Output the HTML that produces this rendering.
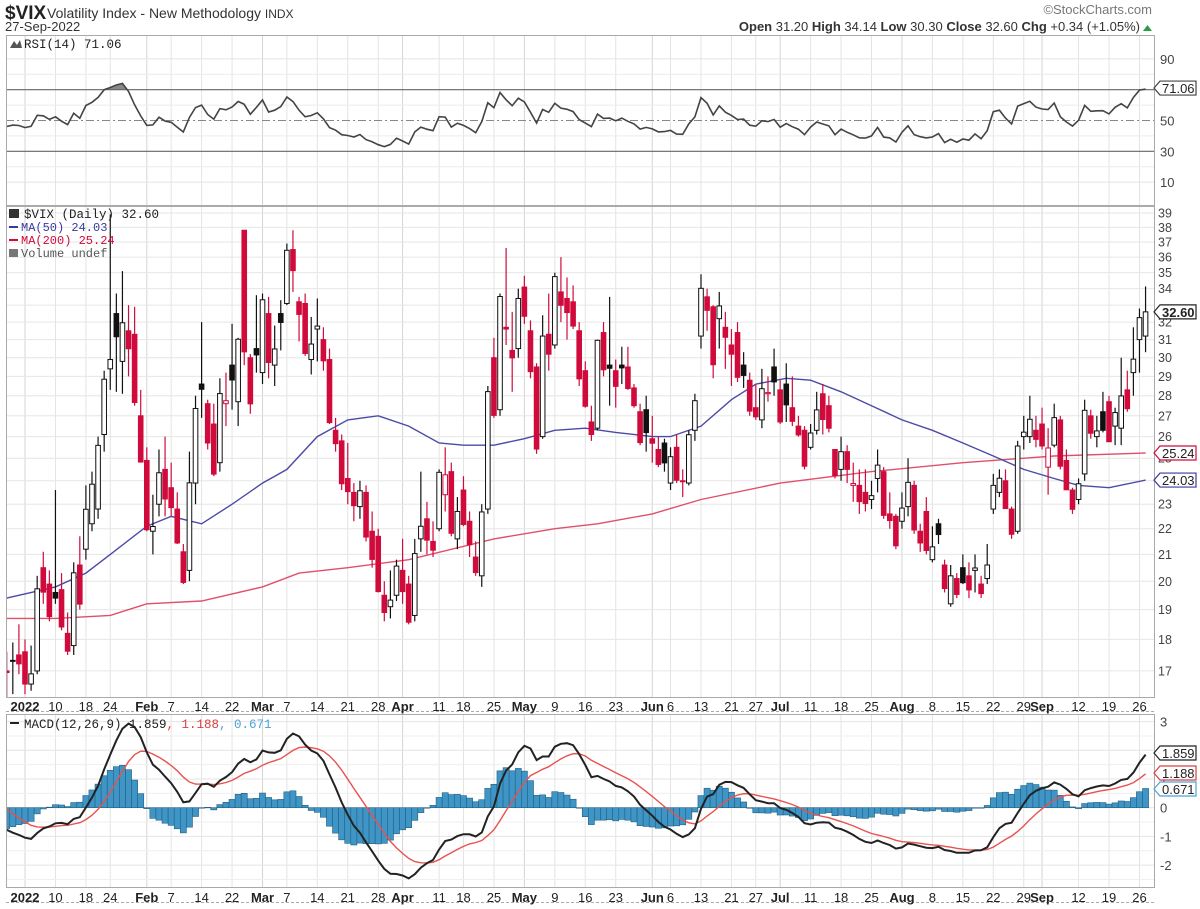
<!DOCTYPE html>
<html><head><meta charset="utf-8">
<style>
html,body{margin:0;padding:0;background:#fff;}
svg{display:block;font-family:"Liberation Sans",Arial,sans-serif;}
.mono{font-family:"Liberation Mono","DejaVu Sans Mono",monospace;}
</style></head>
<body>
<svg id="chart" width="1200" height="909" viewBox="0 0 1200 909" xmlns="http://www.w3.org/2000/svg">
<rect x="0" y="0" width="1200" height="909" fill="#fff"/>
<g>
<text x="5" y="19" font-size="19" font-weight="bold" fill="#222">$VIX</text>
<text x="47" y="18" font-size="14" fill="#333">Volatility Index - New Methodology <tspan font-size="12">INDX</tspan></text>
<text x="5" y="31" font-size="13" fill="#333">27-Sep-2022</text>
<text x="1152" y="14" font-size="13" fill="#777" text-anchor="end">©StockCharts.com</text>
<text x="1140" y="31" font-size="13" fill="#333" text-anchor="end"><tspan font-weight="bold">Open</tspan> 31.20  <tspan font-weight="bold">High</tspan> 34.14  <tspan font-weight="bold">Low</tspan> 30.30  <tspan font-weight="bold">Close</tspan> 32.60  <tspan font-weight="bold">Chg</tspan> +0.34 (+1.05%)</text>
<path d="M1143,31 L1152,31 L1147.5,25 Z" fill="#2a9d4a"/>
</g>
<g id="grid"></g>
<g id="rsi"></g>
<g id="price"></g>
<g id="xaxis"></g>
<g id="macd"></g>
<g id="frames"></g>
</svg>
<script>
// ---------- DATA ----------
const warmCloses = [16.49,16.37,17.11,17.59,17.91,19.17,19.38,18.58,28.62,22.96,27.19,31.12,27.95,30.67,27.18,21.89,19.90,21.58,18.69,20.31,21.89,19.29,20.57,21.57,22.87,19.70,18.63,17.96,17.68,17.54];
const firstIndex = -3;
const opens = [17.0,17.3,17.5,17.6,16.6,17.0,20.5,19.9,19.6,19.7,18.2,17.8,20.6,21.2,22.2,22.8,26.1,29.4,32.5,29.8,31.5,31.3,27.0,24.9,21.9,23.0,24.5,23.7,22.8,21.1,20.4,23.9,28.6,27.6,26.6,24.8,27.6,29.6,27.7,37.8,30.0,30.5,29.2,32.5,29.6,32.5,33.1,36.5,33.2,33.1,29.9,31.6,31.0,29.9,26.3,25.8,24.1,23.5,22.9,23.5,21.9,21.7,19.5,19.1,19.5,20.4,19.9,18.8,21.6,22.4,21.5,22.0,23.4,24.4,21.6,23.6,22.3,20.9,20.2,22.8,30.0,27.3,31.7,30.4,30.5,34.1,31.5,29.5,26.0,31.3,30.7,33.8,33.4,33.2,31.5,29.3,26.7,26.4,31.4,29.6,29.3,29.6,29.5,28.4,27.2,27.3,25.9,25.4,25.7,23.9,25.5,24.0,23.9,26.3,31.2,33.5,32.9,32.2,31.7,30.7,31.4,29.6,28.8,27.4,26.8,28.1,29.5,28.3,28.6,27.4,26.5,26.3,25.5,26.3,28.1,27.5,25.4,24.5,25.3,23.8,23.8,23.5,23.2,24.1,24.4,22.6,22.5,22.3,22.9,23.8,21.9,22.7,20.8,22.2,20.6,19.2,20.1,20.5,20.2,20.4,19.9,20.1,22.8,23.5,24.0,22.8,21.9,26.0,26.0,26.3,26.6,24.6,25.6,26.8,24.9,23.6,23.2,24.3,27.0,26.0,27.2,27.7,26.5,26.4,28.3,29.2,31.0,31.2];
const highs = [17.6,17.9,18.5,18.0,17.8,20.2,21.1,20.4,23.6,20.3,18.9,20.7,21.7,23.8,24.4,26.0,29.3,38.9,33.7,35.1,33.0,32.9,28.3,25.5,23.4,25.4,26.0,24.8,23.5,21.4,25.3,28.0,32.0,27.8,27.6,28.9,29.2,31.9,31.1,37.8,30.2,33.6,33.7,33.5,31.8,33.3,36.9,37.8,33.5,33.7,32.3,33.4,31.7,30.5,26.9,26.1,25.7,23.9,24.0,23.8,22.7,22.0,20.0,20.4,20.8,21.6,20.2,21.6,24.4,23.1,22.3,24.5,25.5,24.8,23.3,24.2,22.7,21.5,23.0,28.5,31.1,33.7,36.6,32.6,34.0,34.8,32.1,29.7,32.4,33.7,35.0,36.0,34.7,34.2,32.0,29.8,27.5,31.0,32.0,33.5,29.9,30.6,30.6,28.6,27.6,28.0,27.0,26.0,25.9,25.5,26.1,24.5,26.3,28.1,34.9,34.0,33.0,33.8,32.6,31.6,32.0,30.3,29.2,28.6,29.4,29.0,30.5,28.8,29.7,29.0,27.0,26.5,26.6,28.2,28.6,28.0,25.4,26.0,25.6,24.8,24.5,24.5,24.0,25.4,24.6,23.5,22.6,23.5,25.0,24.0,22.2,23.3,22.1,22.4,20.8,20.6,20.3,21.0,20.7,21.0,20.2,21.4,24.3,24.5,24.5,22.9,25.8,27.0,28.0,27.0,27.4,26.4,27.6,27.0,25.4,23.7,24.1,27.8,27.3,27.0,28.2,28.0,27.4,30.0,29.3,31.7,32.8,34.14];
const lows = [16.2,16.3,16.9,16.3,16.4,16.9,19.2,18.6,19.2,18.3,17.5,17.5,19.0,20.8,21.9,22.4,25.3,28.3,28.2,28.1,29.0,27.5,24.8,21.9,21.0,22.5,22.5,22.5,21.4,19.9,20.0,23.0,26.9,25.4,24.2,24.4,26.5,27.3,26.5,29.6,27.1,29.2,28.6,28.9,28.5,30.4,33.0,33.8,30.9,30.1,29.1,29.8,29.3,26.6,25.3,23.6,23.0,22.3,22.4,21.5,20.5,19.6,18.6,18.7,19.3,19.2,18.5,18.6,21.1,21.0,20.9,21.9,22.7,21.7,21.2,22.1,20.9,20.2,19.8,22.6,26.9,27.0,30.7,28.2,30.0,31.9,28.9,25.2,25.9,29.3,30.5,32.0,31.0,31.6,28.5,27.4,25.8,26.3,29.0,27.5,27.4,28.6,28.3,27.4,25.6,25.3,24.8,24.6,24.4,23.6,23.9,23.3,23.8,25.8,30.5,31.5,28.9,30.5,29.4,28.5,28.7,28.4,27.0,26.8,26.4,27.7,28.0,26.6,26.7,26.5,26.0,24.5,25.4,26.1,26.1,26.2,24.1,24.0,23.9,23.1,22.6,22.7,22.8,23.5,22.4,22.0,21.2,22.0,22.5,21.8,21.1,21.0,20.7,21.4,19.6,19.1,19.4,19.9,19.4,19.6,19.4,19.9,22.6,23.3,22.8,21.6,21.8,25.4,25.7,25.5,25.4,23.4,25.5,24.5,23.6,22.6,23.0,24.0,25.9,25.5,26.2,25.8,25.6,25.6,27.2,28.0,29.2,30.30];
const closes = [16.95,17.33,17.22,16.60,16.91,19.73,19.61,18.76,19.40,18.41,17.62,20.31,19.19,22.79,23.85,25.59,28.85,29.90,31.16,31.96,30.49,27.66,24.83,21.96,22.09,24.35,23.22,22.86,21.44,19.96,23.91,27.36,28.33,25.70,24.29,28.11,27.75,28.81,31.02,30.32,27.59,30.15,33.32,29.74,30.48,31.98,36.45,35.13,32.45,30.23,30.75,31.77,29.83,26.67,25.67,23.87,23.53,22.94,23.57,21.67,20.81,19.63,18.90,19.33,20.56,19.63,18.57,21.03,22.10,21.55,21.16,24.37,24.26,21.82,22.70,22.17,21.37,20.32,22.68,28.21,27.02,33.52,31.60,29.99,33.40,32.34,29.25,25.42,31.20,30.19,34.75,32.99,32.56,31.77,28.87,27.47,26.10,30.96,29.35,29.43,28.48,29.45,28.37,27.50,25.72,26.19,25.69,24.72,24.79,25.07,24.02,23.96,26.09,27.75,34.02,32.69,29.62,32.95,31.13,30.19,28.95,29.05,27.23,26.95,28.36,28.16,28.71,26.70,27.54,26.73,26.08,24.64,26.17,27.29,26.82,26.40,24.23,25.30,24.50,23.88,23.11,23.03,23.36,24.69,22.54,22.33,21.33,22.84,23.93,21.95,21.44,21.15,21.29,21.77,19.74,20.20,19.53,19.95,19.69,20.49,19.56,20.60,23.80,24.11,22.82,21.78,25.56,26.21,26.83,25.87,25.56,25.47,26.91,24.64,23.61,22.79,23.87,27.27,26.16,26.27,26.30,25.76,27.16,27.99,27.35,29.92,32.26,32.60];
const ma50Days = [-3,5,10,14,20,24,29,34,39,43,48,53,58,63,68,72,77,82,87,92,97,103,106,111,116,120,125,129,134,139,144,149,154,159,164,169,173,178,184];
const ma50Vals = [19.4,19.8,20.3,21.0,22.1,22.5,22.2,23.0,23.9,24.5,26.0,26.8,27.0,26.5,25.7,25.6,25.6,25.9,26.3,26.4,26.2,26.0,26.0,26.5,27.8,28.6,28.9,28.8,28.2,27.5,26.8,26.3,25.7,25.1,24.5,24.1,23.8,23.7,24.03];
const ma200Days = [-3,5,14,20,29,39,45,53,63,77,87,94,103,111,124,139,154,169,184];
const ma200Vals = [18.7,18.7,18.8,19.2,19.3,19.8,20.3,20.5,20.8,21.6,22.0,22.2,22.6,23.2,23.9,24.4,24.8,25.1,25.24];
const tickDays = [0,5,10,14,20,24,29,34,39,43,48,53,58,62,68,72,77,82,87,92,97,103,106,111,116,120,124,129,134,139,144,149,154,159,164,167,173,178,183];
const tickLabels = ['2022','10','18','24','Feb','7','14','22','Mar','7','14','21','28','Apr','11','18','25','May','9','16','23','Jun','6','13','21','27','Jul','11','18','25','Aug','8','15','22','29','Sep','12','19','26'];
const priceTicks = [17,18,19,20,21,22,23,24,25,26,27,28,29,30,31,32,33,34,35,36,37,38,39];
const rsiTicks = [10,30,50,70,90];
const macdTicks = [-2,-1,0,1,2,3];

// ---------- LAYOUT ----------
const NS='http://www.w3.org/2000/svg';
const L=6, R=1154;
const RSI_T=35, RSI_B=205, PR_T=206, PR_B=697, MC_T=714, MC_B=887;
function xDay(i){return 25 + i*6.09;}
function yPrice(v){return 213 + 551.5*(Math.log(39)-Math.log(v));}
function yRsi(v){return 120.5 - (v-50)*1.54;}
function yMacd(v){return 807.7 - v*28.7;}
function mk(tag, attrs, parent){const e=document.createElementNS(NS,tag);for(const k in attrs)e.setAttribute(k,attrs[k]);parent.appendChild(e);return e;}
const gGrid=document.getElementById('grid'), gRsi=document.getElementById('rsi'), gPrice=document.getElementById('price'), gX=document.getElementById('xaxis'), gMacd=document.getElementById('macd'), gFr=document.getElementById('frames');













const defs=mk('defs',{},document.getElementById('chart'));
[['clipRsi',RSI_T,RSI_B],['clipPr',PR_T,PR_B],['clipMc',MC_T,MC_B]].forEach(c=>{const cp=mk('clipPath',{id:c[0]},defs);mk('rect',{x:L,y:c[1],width:R-L,height:c[2]-c[1]},cp);});
const cpHi=mk('clipPath',{id:'clipOB'},defs);mk('rect',{x:L,y:RSI_T,width:R-L,height:yRsi(70)-RSI_T},cpHi);

// ---------- GRID ----------
tickDays.forEach((d,k)=>{
  const x=xDay(d);
  const isMonth=isNaN(+tickLabels[k]) || tickLabels[k]==='2022';
  [[RSI_T,RSI_B],[PR_T,PR_B],[MC_T,MC_B]].forEach(p=>{
    const ln=mk('line',{x1:x,x2:x,y1:p[0],y2:p[1],stroke:isMonth?'#d4d4d4':'#e4e4e4','stroke-width':1},gGrid);
    
    
  });
});
[20,40,60,80].forEach(v=>{mk('line',{x1:L,x2:R,y1:yRsi(v),y2:yRsi(v),stroke:'#ececec'},gGrid);});
rsiTicks.forEach(v=>{
  if(v===10||v===90) mk('line',{x1:L,x2:R,y1:yRsi(v),y2:yRsi(v),stroke:'#e4e4e4'},gGrid);
  const t=mk('text',{x:1160,y:yRsi(v)+5,'font-size':13,fill:'#444'},gGrid);t.textContent=v;
  
  
});
priceTicks.forEach(v=>{
  const y=yPrice(v);
  mk('line',{x1:L,x2:R,y1:y,y2:y,stroke:'#e6e6e6'},gGrid);
  if(v===33) return;
  const t=mk('text',{x:1158,y:y+4.5,'font-size':12.5,fill:'#444'},gGrid);t.textContent=v;
  
  
});
[-2.5,-1.5,-0.5,0.5,1.5,2.5].forEach(v=>mk('line',{x1:L,x2:R,y1:yMacd(v),y2:yMacd(v),stroke:'#efefef'},gGrid));
macdTicks.forEach(v=>{
  mk('line',{x1:L,x2:R,y1:yMacd(v),y2:yMacd(v),stroke:'#e4e4e4'},gGrid);
  const t=mk('text',{x:1160,y:yMacd(v)+5,'font-size':13,fill:'#444'},gGrid);t.textContent=v;
  
  
});

// ---------- INDICATORS ----------
const allCloses = warmCloses.concat(closes);
const off = warmCloses.length;
const rsi=[]; let ag=0, al=0;
for(let i=1;i<allCloses.length;i++){
  const ch=allCloses[i]-allCloses[i-1], g=Math.max(ch,0), l=Math.max(-ch,0);
  if(i<=14){ag+=g/14; al+=l/14;} else {ag=(ag*13+g)/14; al=(al*13+l)/14;}
  rsi[i]= i>=14 ? 100-100/(1+ag/(al||1e-9)) : null;
}
const macd=[], sig=[], hist=[]; let e12=allCloses[0], e26=allCloses[0], s9=null;
for(let i=0;i<allCloses.length;i++){
  e12=e12+(allCloses[i]-e12)*2/13; e26=e26+(allCloses[i]-e26)*2/27;
  const m=e12-e26; s9 = s9===null? m : s9+(m-s9)*2/10;
  macd[i]=m; sig[i]=s9; hist[i]=m-s9;
}

// ---------- RSI PANEL ----------
const gR=mk('g',{'clip-path':'url(#clipRsi)'},gRsi);
let rp='';
closes.forEach((c,k)=>{const i=k+off;rp+=(k?'L':'M')+xDay(firstIndex+k).toFixed(1)+','+yRsi(rsi[i]).toFixed(1);});
const ob=mk('path',{d:rp+'L'+xDay(firstIndex+closes.length-1)+','+yRsi(70)+'L'+xDay(firstIndex)+','+yRsi(70)+'Z',fill:'#888','clip-path':'url(#clipOB)'},gR);


mk('line',{x1:L,x2:R,y1:yRsi(70),y2:yRsi(70),stroke:'#666','stroke-width':1.2},gR);
mk('line',{x1:L,x2:R,y1:yRsi(30),y2:yRsi(30),stroke:'#666','stroke-width':1.2},gR);
mk('line',{x1:L,x2:R,y1:yRsi(50),y2:yRsi(50),stroke:'#888','stroke-width':1,'stroke-dasharray':'8,3,2,3'},gR);
const rl=mk('path',{d:rp,fill:'none',stroke:'#444','stroke-width':1.6},gR);


const rLeg=mk('text',{x:24,y:48,'font-size':12.5,fill:'#222','class':'mono'},gRsi);rLeg.textContent='RSI(14) 71.06';


mk('path',{d:'M10,48 L14,41 L17,45 L20,40 L22,48 Z',fill:'#555'},gRsi);

// ---------- PRICE PANEL ----------
const gP=mk('g',{'clip-path':'url(#clipPr)'},gPrice);
function polyFrom(days,vals,fn){return days.map((d,k)=>(k?'L':'M')+xDay(d).toFixed(1)+','+fn(vals[k]).toFixed(1)).join('');}
const m200=mk('path',{d:polyFrom(ma200Days,ma200Vals,yPrice),fill:'none',stroke:'#e0506a','stroke-width':1.4},gP);


const m50=mk('path',{d:polyFrom(ma50Days,ma50Vals,yPrice),fill:'none',stroke:'#4b4ba6','stroke-width':1.4},gP);


const RED='#d10a3c';
closes.forEach((c,k)=>{
  const o=opens[k], h=highs[k], l=lows[k], prev=k?closes[k-1]:warmCloses[warmCloses.length-1];
  const col = c<prev ? RED : '#111';
  const filled = c<o;
  const x=xDay(firstIndex+k);
  const g=mk('g',{},gP);
  
  
  const top=yPrice(Math.max(o,c)), bot=yPrice(Math.min(o,c));
  mk('line',{x1:x,x2:x,y1:yPrice(h),y2:yPrice(l),stroke:col,'stroke-width':1.2},g);
  mk('rect',{x:x-2.3,y:top,width:4.6,height:Math.max(bot-top,1),fill:filled?col:'#fff',stroke:col,'stroke-width':1},g);
});
const pl=[['$VIX (Daily) 32.60','#222',218,12.5],['MA(50) 24.03','#3a3aa0',231,12],['MA(200) 25.24','#d10a3c',244,12],['Volume undef','#555',257,12]];
pl.forEach((p,k)=>{
  const t=mk('text',{x:k?21:24,y:p[2],'font-size':p[3],fill:p[1],'class':'mono'},gPrice);t.textContent=p[0];
  
  
});
mk('rect',{x:9,y:209,width:10,height:9,fill:'#333'},gPrice);
mk('line',{x1:9,x2:18,y1:227,y2:227,stroke:'#3a3aa0','stroke-width':2},gPrice);
mk('line',{x1:9,x2:18,y1:240,y2:240,stroke:'#d10a3c','stroke-width':2},gPrice);
mk('rect',{x:9,y:249,width:9,height:8,fill:'#777'},gPrice);

// ---------- X AXES ----------
[[697,712,706],[887,903,897]].forEach(a=>{
  mk('rect',{x:L,y:a[0],width:R-L,height:a[1]-a[0],fill:'#fff'},gX);
  mk('line',{x1:L,x2:R,y1:a[0]+0.5,y2:a[0]+0.5,stroke:'#aaa','stroke-dasharray':'3,2'},gX);
  mk('line',{x1:L,x2:R,y1:a[1]-0.5,y2:a[1]-0.5,stroke:'#aaa','stroke-dasharray':'3,2'},gX);
  tickDays.forEach((d,k)=>{
    const lab=tickLabels[k], bold=isNaN(+lab)||lab==='2022';
    const t=mk('text',{x:xDay(d),y:a[2]+5,'font-size':13,'text-anchor':'middle',fill:'#222','font-weight':bold?'bold':'normal'},gX);
    t.textContent=lab;
    
    
  });
});

// ---------- MACD PANEL ----------
const gM=mk('g',{'clip-path':'url(#clipMc)'},gMacd);
closes.forEach((c,k)=>{
  const i=k+off, v=hist[i], x=xDay(firstIndex+k);
  const y0=yMacd(0), y1=yMacd(v);
  const b=mk('rect',{x:x-3.05,y:Math.min(y0,y1),width:6.09,height:Math.max(Math.abs(y1-y0),0.5),fill:'#3f95c6',stroke:'#23607f','stroke-width':0.6},gM);
  
  
});
let mp='', sp='';
closes.forEach((c,k)=>{const i=k+off,x=xDay(firstIndex+k).toFixed(1);mp+=(k?'L':'M')+x+','+yMacd(macd[i]).toFixed(1);sp+=(k?'L':'M')+x+','+yMacd(sig[i]).toFixed(1);});
const sl=mk('path',{d:sp,fill:'none',stroke:'#e8524f','stroke-width':1.4},gM);


const ml=mk('path',{d:mp,fill:'none',stroke:'#222','stroke-width':2},gM);


const mt=mk('text',{x:24,y:728,'font-size':12.5,fill:'#222','class':'mono'},gMacd);
mt.innerHTML='MACD(12,26,9) 1.859<tspan fill="#e03c3c">, 1.188</tspan><tspan fill="#4aa3d6">, 0.671</tspan>';


mk('line',{x1:10,x2:19,y1:723,y2:723,stroke:'#222','stroke-width':2},gMacd);

// ---------- FRAMES & TAGS ----------
[[RSI_T,RSI_B],[PR_T,PR_B],[MC_T,MC_B]].forEach(p=>mk('rect',{x:L+0.5,y:p[0]+0.5,width:R-L,height:p[1]-p[0],fill:'none',stroke:'#aaa'},gFr));
function tag(v,y,col,bold,name){
  const g=mk('g',{},gFr);
  
  
  mk('path',{d:`M${R},${y} L${R+6},${y-7} L${R+42},${y-7} L${R+42},${y+7} L${R+6},${y+7} Z`,fill:'#fff',stroke:col,'stroke-width':1.2},g);
  const t=mk('text',{x:R+8,y:y+5,'font-size':13,fill:'#222','font-weight':bold?'bold':'normal'},g);t.textContent=v;
}
tag('71.06',yRsi(71.06),'#444',false,'rsi-value-tag');
tag('32.60',yPrice(32.6),'#222',true,'price-close-tag');
tag('25.24',yPrice(25.24),'#d10a3c',false,'ma200-value-tag');
tag('24.03',yPrice(24.03),'#3a3aa0',false,'ma50-value-tag');
tag('1.859',753,'#222',false,'macd-value-tag');
tag('1.188',773,'#e03c3c',false,'signal-value-tag');
tag('0.671',789,'#4aa3d6',false,'histogram-value-tag');
</script>
</body></html>
